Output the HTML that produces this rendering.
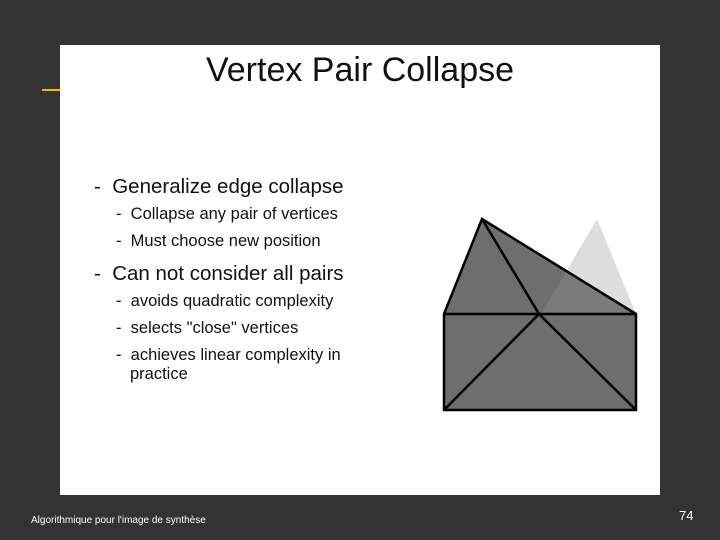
<!DOCTYPE html>
<html><head><style>
body{margin:0;width:720px;height:540px;background:#333;position:relative;overflow:hidden;font-family:"Liberation Sans",sans-serif}
.slide{position:absolute;left:60px;top:45px;width:600px;height:450px;background:#fff}
.t{position:absolute;left:0;width:600px;top:6px;text-align:center;font-size:34px;color:#111}
.b{position:absolute;color:#111;white-space:nowrap}
.l{font-size:20.5px}
.s{font-size:16.5px}
</style></head><body>
<div style="position:absolute;left:42px;top:89px;width:18px;height:2px;background:#f0c000"></div>
<div class="slide">
<div class="t">Vertex Pair Collapse</div>
<div class="b l" style="left:34px;top:130px">-&nbsp; Generalize edge collapse</div>
<div class="b s" style="left:56px;top:160px">-&nbsp; Collapse any pair of vertices</div>
<div class="b s" style="left:56px;top:187px">-&nbsp; Must choose new position</div>
<div class="b l" style="left:34px;top:217px">-&nbsp; Can not consider all pairs</div>
<div class="b s" style="left:56px;top:247px">-&nbsp; avoids quadratic complexity</div>
<div class="b s" style="left:56px;top:274px">-&nbsp; selects "close" vertices</div>
<div class="b s" style="left:56px;top:301px">-&nbsp; achieves linear complexity in</div>
<div class="b s" style="left:70px;top:320px">practice</div>
</div>
<svg style="position:absolute;left:0;top:0" width="720" height="540">
<polygon points="597,219 541,314 636,314" fill="#ddd"/>
<polygon points="444,314 482,219 636,314 636,410 444,410" fill="#6e6e6e"/>
<polygon points="567,270 541,314 636,314" fill="#7a7a7a"/>
<g stroke="#000" stroke-width="2.5" fill="none">
<polygon points="444,314 482,219 636,314 636,410 444,410"/>
<line x1="444" y1="314" x2="636" y2="314"/>
<line x1="482" y1="219" x2="539" y2="314"/>
<line x1="539" y1="314" x2="444" y2="410"/>
<line x1="539" y1="314" x2="636" y2="410"/>
</g>
</svg>
<div style="position:absolute;left:31px;top:515px;font-size:10px;color:#fff">Algorithmique pour l'image de synthèse</div>
<div style="position:absolute;left:679px;top:508px;font-size:13px;color:#fff">74</div>
</body></html>
